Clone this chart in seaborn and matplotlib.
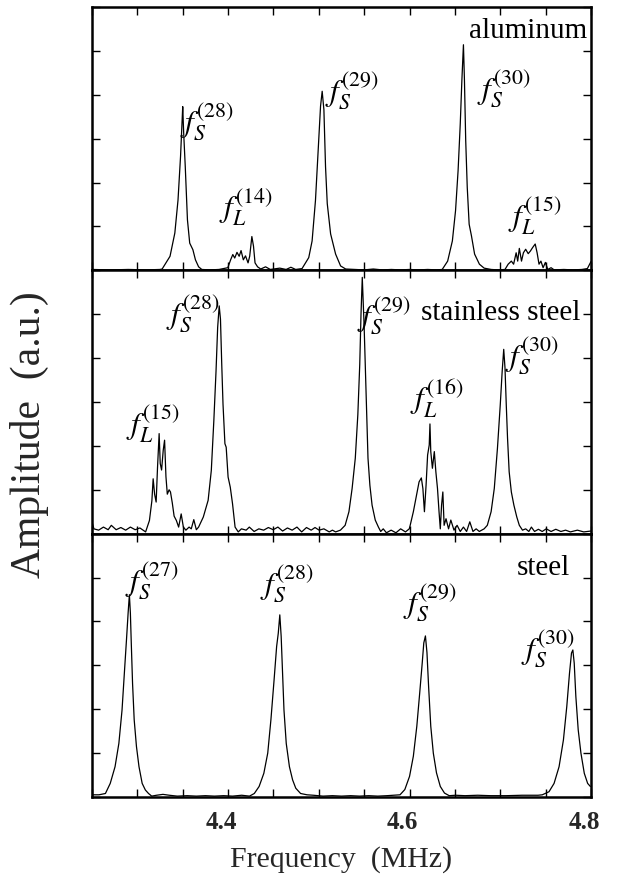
import matplotlib
matplotlib.use("Agg")
import matplotlib.pyplot as plt
import matplotlib.transforms as mtransforms
from matplotlib.ticker import FixedLocator, MultipleLocator
import pandas as pd
import seaborn as sns

# ---------------- data ----------------
al_freq = [4.2500, 4.2700, 4.2900, 4.3100, 4.3250,
           4.3273, 4.3360, 4.3413, 4.3448, 4.3476, 4.3493, 4.3500, 4.3510, 4.3528, 4.3552,
           4.3577, 4.3612, 4.3640, 4.3675, 4.3710,
           4.3800, 4.3900, 4.3997,
           4.4028, 4.4052, 4.4073, 4.4098, 4.4122, 4.4143, 4.4168, 4.4192, 4.4220, 4.4238,
           4.4262, 4.4280, 4.4297, 4.4325, 4.4360, 4.4413, 4.4465, 4.4570, 4.4640, 4.4692,
           4.4745, 4.4815,
           4.4889, 4.4926, 4.4963, 4.4993, 4.5019, 4.5037, 4.5056, 4.5074, 4.5093, 4.5130,
           4.5185, 4.5240, 4.5296,
           4.5400, 4.5500, 4.5600, 4.5700, 4.5800, 4.5900, 4.6000, 4.6100, 4.6200, 4.6300,
           4.6360, 4.6420, 4.6472, 4.6507, 4.6535, 4.6559, 4.6577, 4.6594, 4.6605, 4.6619,
           4.6636, 4.6657, 4.6682, 4.6717, 4.6770, 4.6822, 4.6900, 4.6980,
           4.7052, 4.7087, 4.7122, 4.7147, 4.7175, 4.7192, 4.7210, 4.7234, 4.7255, 4.7280,
           4.7308, 4.7332, 4.7357, 4.7385, 4.7406, 4.7427, 4.7448, 4.7472, 4.7497, 4.7524,
           4.7560, 4.7594, 4.7700, 4.7800, 4.7900, 4.7960, 4.8000]
al_amp = [0.02, 0.01, 0.02, 0.01, 0.02,
          0.03, 0.32, 0.85, 1.60, 2.60, 3.40, 3.73, 3.15, 2.36, 1.15,
          0.62, 0.47, 0.24, 0.08, 0.02,
          0.01, 0.02, 0.06,
          0.24, 0.36, 0.28, 0.41, 0.32, 0.45, 0.24, 0.33, 0.17, 0.32,
          0.77, 0.55, 0.17, 0.08, 0.03, 0.08, 0.02, 0.05, 0.02, 0.07,
          0.02, 0.04,
          0.29, 0.67, 1.59, 2.74, 3.74, 4.08, 3.66, 2.36, 1.52, 0.83,
          0.37, 0.10, 0.03,
          0.02, 0.01, 0.03, 0.01, 0.02, 0.01, 0.02, 0.01, 0.02, 0.01,
          0.02, 0.21, 0.67, 1.36, 2.27, 3.34, 4.34, 5.14, 4.34, 2.96,
          1.89, 1.05, 0.79, 0.37, 0.14, 0.05, 0.02, 0.01,
          0.02, 0.14, 0.21, 0.14, 0.40, 0.21, 0.50, 0.21, 0.40, 0.48,
          0.38, 0.44, 0.52, 0.60, 0.40, 0.14, 0.21, 0.06, 0.18, 0.02,
          0.06, 0.01, 0.02, 0.01, 0.02, 0.04, 0.20]

ss_freq = [4.2500, 4.2521, 4.2573, 4.2626, 4.2678, 4.2713, 4.2766, 4.2818, 4.2871, 4.2923,
           4.2976, 4.3028, 4.3091,
           4.3133, 4.3160, 4.3174, 4.3190, 4.3207, 4.3222, 4.3240, 4.3252, 4.3267, 4.3285,
           4.3300, 4.3315, 4.3330, 4.3350, 4.3365, 4.3385, 4.3405, 4.3430, 4.3455, 4.3483,
           4.3507, 4.3535, 4.3570, 4.3594, 4.3622, 4.3650, 4.3675,
           4.3727, 4.3780, 4.3815, 4.3843, 4.3867, 4.3885, 4.3902, 4.3916, 4.3930, 4.3944,
           4.3965, 4.3979, 4.4000, 4.4024, 4.4049, 4.4077, 4.4112,
           4.4147, 4.4199, 4.4234, 4.4287, 4.4339, 4.4392, 4.4444, 4.4497, 4.4549, 4.4601,
           4.4654, 4.4706, 4.4759, 4.4811, 4.4864, 4.4916, 4.4958, 4.5003, 4.5056, 4.5115,
           4.5150,
           4.5185, 4.5238, 4.5290, 4.5332, 4.5367, 4.5402, 4.5430, 4.5451, 4.5465, 4.5479,
           4.5490, 4.5500, 4.5514, 4.5528, 4.5542, 4.5563, 4.5587, 4.5622, 4.5657, 4.5682,
           4.5710, 4.5745, 4.5797, 4.5850, 4.5902, 4.5955, 4.5997,
           4.6007, 4.6042, 4.6077, 4.6105, 4.6130, 4.6147, 4.6164, 4.6182, 4.6199, 4.6217,
           4.6225, 4.6234, 4.6252, 4.6273, 4.6290, 4.6308, 4.6325, 4.6339, 4.6353, 4.6367,
           4.6381, 4.6402, 4.6430, 4.6455, 4.6490, 4.6524, 4.6559, 4.6594, 4.6629, 4.6664,
           4.6699, 4.6734, 4.6769, 4.6822,
           4.6857, 4.6899, 4.6934, 4.6969, 4.7000, 4.7021, 4.7038, 4.7052, 4.7066, 4.7080,
           4.7098, 4.7122, 4.7150, 4.7182, 4.7210, 4.7245, 4.7280, 4.7315, 4.7343, 4.7378,
           4.7420, 4.7462, 4.7507, 4.7560, 4.7612, 4.7668, 4.7720, 4.7773, 4.7850, 4.7920,
           4.8000]
ss_amp = [0.27, 0.11, 0.08, 0.15, 0.09, 0.19, 0.09, 0.14, 0.08, 0.15,
          0.09, 0.13, 0.04,
          0.30, 0.75, 1.25, 0.90, 0.72, 1.50, 2.28, 1.60, 1.45, 1.90,
          2.13, 1.30, 0.90, 1.00, 0.95, 0.70, 0.40, 0.30, 0.15, 0.45,
          0.15, 0.08, 0.15, 0.11, 0.32, 0.09, 0.15,
          0.38, 0.76, 1.44, 2.58, 3.70, 4.70, 5.19, 4.89, 3.86, 2.95,
          2.05, 1.97, 1.29, 1.06, 0.68, 0.15, 0.04,
          0.11, 0.08, 0.15, 0.05, 0.11, 0.08, 0.14, 0.09, 0.15, 0.06,
          0.13, 0.08, 0.15, 0.04, 0.14, 0.08, 0.14, 0.08, 0.11, 0.04,
          0.08,
          0.04, 0.08, 0.19, 0.50, 1.03, 1.72, 2.71, 3.85, 5.00, 5.84,
          5.23, 4.69, 3.70, 2.63, 1.72, 1.10, 0.65, 0.31, 0.15, 0.05,
          0.11, 0.02, 0.08, 0.02, 0.11, 0.04, 0.11,
          0.19, 0.50, 0.88, 1.18, 1.27, 1.03, 0.50, 1.10, 1.79, 2.02,
          2.50, 1.87, 1.49, 1.87, 1.41, 1.03, 0.50, 0.11, 0.65, 0.95,
          0.19, 0.34, 0.11, 0.31, 0.08, 0.19, 0.05, 0.15, 0.05, 0.27,
          0.05, 0.11, 0.05, 0.11,
          0.19, 0.50, 1.03, 1.95, 2.94, 3.70, 4.20, 3.78, 2.94, 2.18,
          1.41, 0.95, 0.65, 0.38, 0.19, 0.08, 0.11, 0.05, 0.15, 0.05,
          0.10, 0.05, 0.11, 0.05, 0.10, 0.05, 0.08, 0.04, 0.08, 0.04,
          0.06]

st_freq = [4.2507, 4.2577, 4.2648, 4.2701, 4.2754, 4.2796, 4.2831, 4.2859, 4.2880, 4.2898,
           4.2912, 4.2923, 4.2933, 4.2947, 4.2965, 4.2990, 4.3018, 4.3053, 4.3088, 4.3123,
           4.3158, 4.3211, 4.3282, 4.3352, 4.3440, 4.3550, 4.3650, 4.3750, 4.3850, 4.3950,
           4.4050, 4.4150, 4.4236,
           4.4289, 4.4342, 4.4394, 4.4437, 4.4472, 4.4507, 4.4535, 4.4553, 4.4570, 4.4585,
           4.4599, 4.4616, 4.4641, 4.4676, 4.4711, 4.4746, 4.4799, 4.4870, 4.4940, 4.5046,
           4.5150, 4.5250, 4.5350, 4.5450, 4.5550, 4.5650, 4.5750, 4.5895,
           4.5948, 4.6000, 4.6042, 4.6080, 4.6112, 4.6140, 4.6157, 4.6175, 4.6192, 4.6210,
           4.6234, 4.6262, 4.6297, 4.6339, 4.6385, 4.6437, 4.6507, 4.6612, 4.6752, 4.6892,
           4.7066, 4.7241, 4.7416, 4.7463,
           4.7537, 4.7593, 4.7648, 4.7696, 4.7733, 4.7763, 4.7785, 4.7800, 4.7815, 4.7833,
           4.7859, 4.7889, 4.7926, 4.7963, 4.7993]
st_amp = [0.05, 0.05, 0.08, 0.31, 0.69, 1.22, 1.98, 2.90, 3.58, 4.19,
          4.61, 4.19, 3.50, 2.59, 1.76, 1.15, 0.69, 0.31, 0.16, 0.08,
          0.02, 0.04, 0.06, 0.04, 0.02, 0.03, 0.02, 0.03, 0.02, 0.03,
          0.02, 0.04, 0.02,
          0.08, 0.24, 0.54, 1.00, 1.76, 2.67, 3.43, 3.73, 4.15, 3.66,
          2.90, 1.98, 1.22, 0.69, 0.39, 0.20, 0.08, 0.05, 0.04, 0.02,
          0.03, 0.02, 0.03, 0.02, 0.03, 0.02, 0.03, 0.05,
          0.17, 0.47, 0.93, 1.61, 2.37, 3.06, 3.51, 3.67, 3.29, 2.52,
          1.61, 1.00, 0.55, 0.24, 0.09, 0.03, 0.04, 0.03, 0.04, 0.03,
          0.03, 0.04, 0.04, 0.05,
          0.12, 0.31, 0.69, 1.30, 2.06, 2.82, 3.28, 3.35, 3.05, 2.29,
          1.53, 1.00, 0.54, 0.31, 0.24]

materials = ["aluminum", "stainless steel", "steel"]
al_labels = [r"$f_S^{(28)}$", r"$f_L^{(14)}$", r"$f_S^{(29)}$", r"$f_S^{(30)}$", r"$f_L^{(15)}$"]
ss_labels = [r"$f_L^{(15)}$", r"$f_S^{(28)}$", r"$f_S^{(29)}$", r"$f_L^{(16)}$", r"$f_S^{(30)}$"]
st_labels = [r"$f_S^{(27)}$", r"$f_S^{(28)}$", r"$f_S^{(29)}$", r"$f_S^{(30)}$"]
xtick_values = [4.4, 4.6, 4.8]
xtick_labels = ["4.4", "4.6", "4.8"]

# ---------------- layout (axes-fraction positions of annotations) ----------------
al_label_pos = [(0.2305, 0.563), (0.3086, 0.237), (0.521, 0.684), (0.8257, 0.692), (0.888, 0.206)]
ss_label_pos = [(0.1222, 0.417), (0.2024, 0.834), (0.585, 0.827), (0.691, 0.512), (0.882, 0.675)]
st_label_pos = [(0.120, 0.820), (0.391, 0.809), (0.677, 0.737), (0.914, 0.562)]
material_pos = [(0.992, 0.882), (0.978, 0.812), (0.958, 0.843)]

sns.set_theme(style="ticks")
plt.rcParams["font.family"] = ["Liberation Serif", "DejaVu Serif"]
plt.rcParams["mathtext.fontset"] = "stix"

fig = plt.figure(figsize=(6.28, 8.92), dpi=100)
axes = fig.subplots(3, 1, sharex=True)
fig.subplots_adjust(left=92 / 628, right=591 / 628, top=1 - 7 / 892, bottom=1 - 797 / 892, hspace=0)

panels = [
    (al_freq, al_amp, al_labels, al_label_pos),
    (ss_freq, ss_amp, ss_labels, ss_label_pos),
    (st_freq, st_amp, st_labels, st_label_pos),
]

for i, (ax, (fr, am, labs, pos)) in enumerate(zip(axes, panels)):
    df = pd.DataFrame({"freq": fr, "amp": am})
    sns.lineplot(data=df, x="freq", y="amp", ax=ax, color="black", linewidth=0.9,
                 estimator=None, sort=False)
    ax.set_xlim(4.25, 4.80)
    ax.set_ylim(0, 6)
    ax.xaxis.set_major_locator(FixedLocator(xtick_values))
    ax.xaxis.set_minor_locator(MultipleLocator(0.05))
    ax.yaxis.set_major_locator(MultipleLocator(1))
    ax.set_yticklabels([])
    ax.set_ylabel("")
    ax.set_xlabel("")
    ax.tick_params(which="both", direction="in", top=True, right=True,
                   length=6, width=1, color="black")
    ax.tick_params(axis="y", labelleft=False)
    for sp in ax.spines.values():
        sp.set_linewidth(1.8)
        sp.set_color("black")
    for lab, (px, py) in zip(labs, pos):
        ax.text(px, py, lab, transform=ax.transAxes, ha="center", va="center",
                fontsize=22.5, color="black")
    mx, my = material_pos[i]
    ax.text(mx, my, materials[i], transform=ax.transAxes, ha="right", va="baseline",
            fontsize=21, color="black")

bottom = axes[-1]
bottom.set_xticks(xtick_values)
bottom.set_xticklabels(xtick_labels, fontsize=18, fontweight="bold")
bottom.tick_params(axis="x", which="major", pad=10)
shift = mtransforms.ScaledTranslation(-7 / 100, 0, fig.dpi_scale_trans)
for lab in bottom.get_xticklabels():
    lab.set_transform(lab.get_transform() + shift)
bottom.set_xlabel("Frequency  (MHz)", fontsize=21.5, labelpad=9)

fig.text(29 / 628, 1 - 435 / 892, "Amplitude  (a.u.)", rotation=90, fontsize=30,
         ha="center", va="center")

fig.savefig("out.png", dpi=100)
